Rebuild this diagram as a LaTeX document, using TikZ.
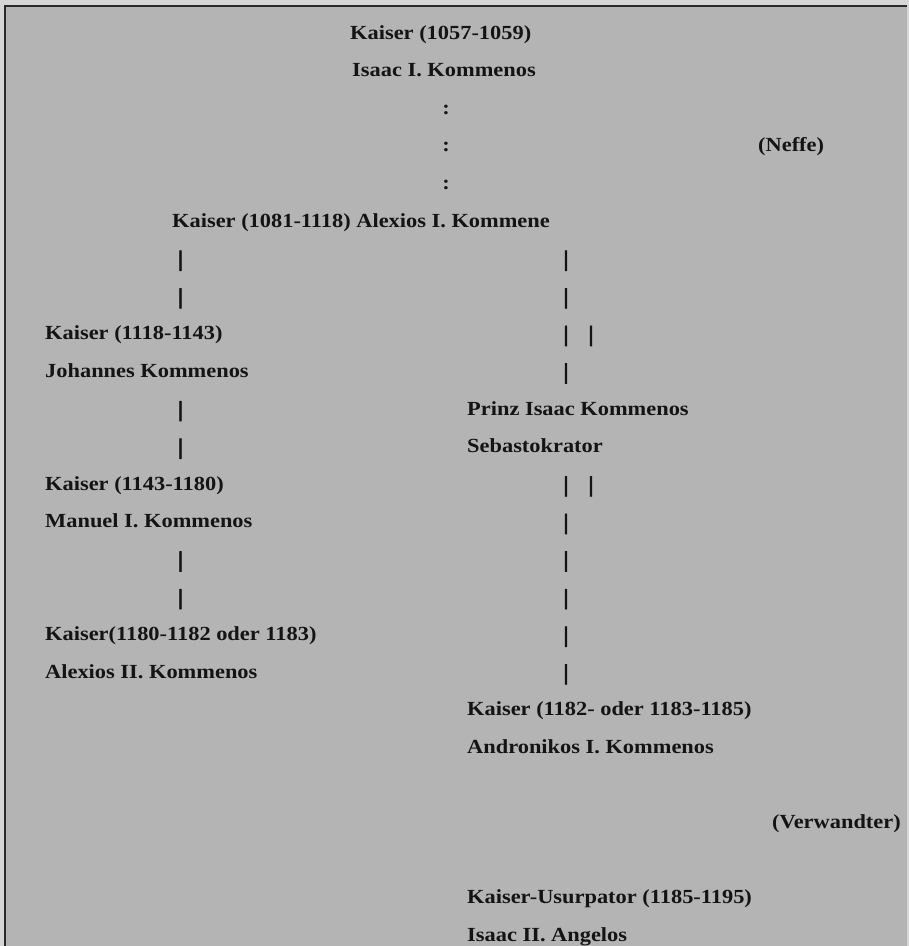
\documentclass[tikz,border=0pt]{standalone}
\usepackage{fontspec}
\setmainfont{Liberation Serif}[FakeStretch=1.12]
\newfontfamily\barfont{Liberation Serif}[FakeBold=3]
\definecolor{bggray}{HTML}{B4B4B4}
\definecolor{outgray}{HTML}{D6D6D6}
\definecolor{edge}{HTML}{2A2A2A}
\definecolor{ink}{HTML}{141414}
\begin{document}
\begin{tikzpicture}[x=1pt,y=-1pt,
  txt/.style={inner sep=0pt, anchor=base west, text=ink, font=\fontsize{20}{24}\selectfont\bfseries},
  colon/.style={inner sep=0pt, anchor=base, text=ink, font=\fontsize{20}{24}\selectfont\bfseries},
  bar/.style={inner sep=0pt, anchor=base, text=ink, font=\barfont\fontsize{22}{26}\selectfont\bfseries}]
\useasboundingbox (0,0) rectangle (909,946);
\fill[outgray] (0,0) rectangle (909,946);
\fill[bggray] (4,5) rectangle (907,946);
\draw[edge, line width=2pt] (5,946) -- (5,6) -- (907,6);
% top
\node[txt] (k1) at (350,39) {Kaiser (1057-1059)};
\node[txt] (i1) at (352,76.6) {Isaac I. Kommenos};
\node[colon] (c1) at (446,114.2) {:};
\node[colon] (c2) at (446,151.8) {:};
\node[txt] (neffe) at (758,151.8) {(Neffe)};
\node[colon] (c3) at (446,189.4) {:};
\node[txt] (alex) at (172,227) {Kaiser (1081-1118) Alexios I. Kommene};
% left branch
\node[bar] (l1) at (180.5,266) {|};
\node[bar] (l2) at (180.5,303.6) {|};
\node[txt] (k2) at (45,339.8) {Kaiser (1118-1143)};
\node[txt] (joh) at (45,377.4) {Johannes Kommenos};
\node[bar] (l3) at (180.5,416.4) {|};
\node[bar] (l4) at (180.5,454) {|};
\node[txt] (k3) at (45,490.2) {Kaiser (1143-1180)};
\node[txt] (man) at (45,527.8) {Manuel I. Kommenos};
\node[bar] (l5) at (180.5,566.8) {|};
\node[bar] (l6) at (180.5,604.4) {|};
\node[txt] (k4) at (45,640.6) {Kaiser(1180-1182 oder 1183)};
\node[txt] (alex2) at (45,678.2) {Alexios II. Kommenos};
% right branch
\node[bar] (r1) at (566,266) {|};
\node[bar] (r2) at (566,303.6) {|};
\node[bar] (r3) at (566,341.2) {|};
\node[bar] (r3b) at (591,341.2) {|};
\node[bar] (r4) at (566,378.8) {|};
\node[txt] (prinz) at (467,415) {Prinz Isaac Kommenos};
\node[txt] (seb) at (467,452.6) {Sebastokrator};
\node[bar] (r5) at (566,491.6) {|};
\node[bar] (r5b) at (591,491.6) {|};
\node[bar] (r6) at (566,529.2) {|};
\node[bar] (r7) at (566,566.8) {|};
\node[bar] (r8) at (566,604.4) {|};
\node[bar] (r9) at (566,642) {|};
\node[bar] (r10) at (566,679.6) {|};
\node[txt] (k5) at (467,715.8) {Kaiser (1182- oder 1183-1185)};
\node[txt] (andr) at (467,753.4) {Andronikos I. Kommenos};
\node[txt] (verw) at (772,828.6) {(Verwandter)};
\node[txt] (k6) at (467,903.8) {Kaiser-Usurpator (1185-1195)};
\node[txt] (ang) at (467,941.4) {Isaac II. Angelos};
\end{tikzpicture}
\end{document}
